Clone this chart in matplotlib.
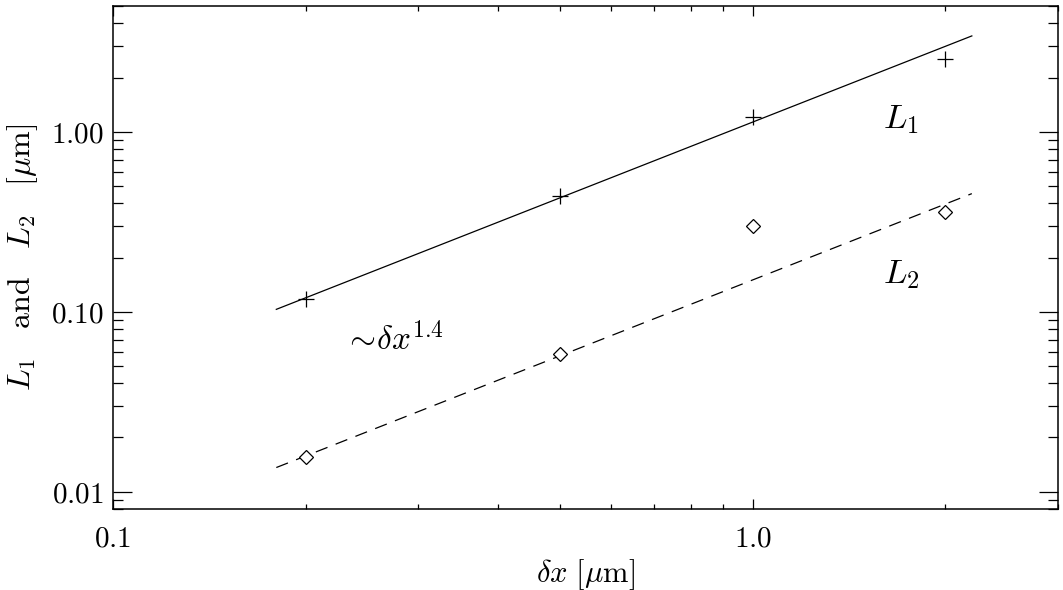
import numpy as np
import matplotlib.pyplot as plt
from matplotlib.ticker import FixedLocator, NullFormatter

plt.rcParams['mathtext.fontset'] = 'cm'
plt.rcParams['font.family'] = 'serif'
plt.rcParams['font.serif'] = ['DejaVu Serif']

# measured points
dx = [0.2, 0.5, 1.0, 2.0]
L1 = [0.117, 0.44, 1.21, 2.54]
L2 = [0.0156, 0.058, 0.30, 0.36]

# ~dx^1.4 fit lines (end points)
fit_x = [0.18, 2.2]
fit_L1 = [0.103, 3.41]
fit_L2 = [0.0136, 0.453]

xticks = [0.1, 1.0]
xticklabels = ['0.1', '1.0']
yticks = [0.01, 0.1, 1.0]
yticklabels = ['0.01', '0.10', '1.00']

fig = plt.figure(figsize=(10.63, 5.90), dpi=100)
ax = fig.add_axes([0.1063, 0.1373, 0.889, 0.8525])

ax.plot(fit_x, fit_L1, color='black', lw=0.9)
ax.plot(fit_x, fit_L2, color='black', lw=0.9, ls=(0, (10, 7)))
ax.plot(dx, L1, ls='none', marker='+', ms=11, mew=0.9, color='black')
ax.plot(dx, L2, ls='none', marker='D', ms=7, mew=0.9, mfc='white', mec='black')

ax.set_xscale('log')
ax.set_yscale('log')
ax.set_xlim(0.1, 3.0)
ax.set_ylim(0.008, 5.0)

ax.xaxis.set_major_locator(FixedLocator(xticks))
ax.set_xticklabels([r'$\mathrm{%s}$' % t for t in xticklabels], fontsize=21)
ax.yaxis.set_major_locator(FixedLocator(yticks))
ax.set_yticklabels([r'$\mathrm{%s}$' % t for t in yticklabels], fontsize=21)
ax.xaxis.set_minor_formatter(NullFormatter())
ax.yaxis.set_minor_formatter(NullFormatter())

ax.tick_params(which='both', direction='in', top=True, right=True, color='black')
ax.tick_params(axis='y', which='major', length=14, width=0.9, pad=7)
ax.tick_params(axis='y', which='minor', length=7, width=0.9)
ax.tick_params(axis='x', which='major', length=7, width=0.9, pad=11)
ax.tick_params(axis='x', which='minor', length=3.5, width=0.9)
for s in ax.spines.values():
    s.set_linewidth(1.1)

ax.set_xlabel(r'$\delta x\ [\mu\mathrm{m}]$', fontsize=22, va='center')
ax.xaxis.set_label_coords(0.5, -0.13)
ax.set_ylabel(r'$L_1\ \ \ \mathrm{and}\ \ \ L_2\ \ \ [\mu\mathrm{m}]$', fontsize=23, labelpad=8)

ax.text(0.23, 0.061, r'$\sim\!\delta x^{1.4}$', fontsize=24)
ax.text(1.6, 1.05, r'$L_1$', fontsize=25)
ax.text(1.6, 0.145, r'$L_2$', fontsize=25)

fig.savefig('out.png', dpi=100)
